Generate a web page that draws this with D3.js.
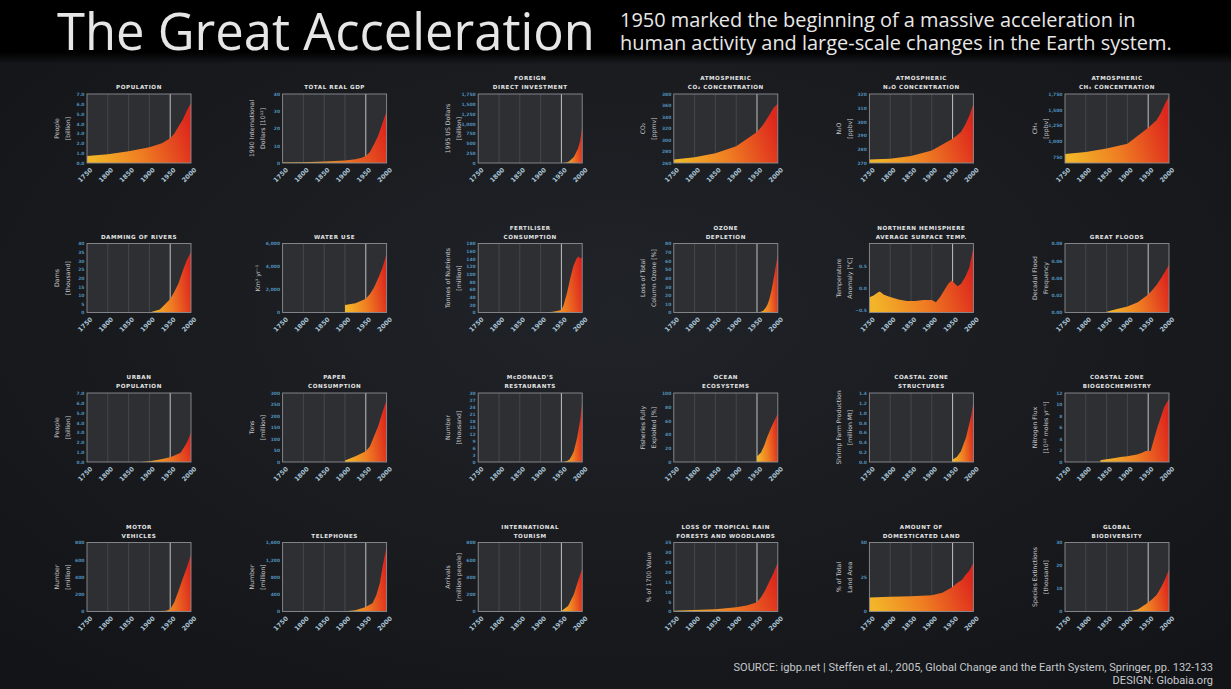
<!DOCTYPE html>
<html>
<head>
<meta charset="utf-8">
<script src="https://cdn.jsdelivr.net/npm/d3@7"></script>
<style>
  body { margin: 0; background: #191b1f; }
  svg { display: block; }
</style>
</head>
<body>
<script>
// ---- data ----
const xTicks = [1750, 1800, 1850, 1900, 1950, 2000];

const population   = [[1750,0.7],[1800,0.9],[1850,1.2],[1900,1.6],[1930,2.0],[1950,2.5],[1960,3.0],[1970,3.7],[1980,4.4],[1990,5.3],[2000,6.1]];
const gdp          = [[1750,0.3],[1800,0.5],[1850,0.8],[1900,1.5],[1925,2.2],[1940,3],[1950,4],[1960,6.4],[1970,11],[1980,16],[1990,23],[2000,30]];
const fdi          = [[1955,0],[1965,20],[1970,60],[1980,150],[1990,370],[1995,560],[2000,910]];
const co2          = [[1750,266],[1800,270],[1850,277],[1900,289],[1950,314],[1960,322],[1970,332],[1980,344],[1990,356],[2000,363]];
const n2o          = [[1750,272.5],[1800,273],[1850,275],[1900,279],[1950,287.5],[1960,290],[1970,292.5],[1980,297.5],[1990,304],[2000,313]];
const ch4          = [[1750,793],[1800,826],[1850,881],[1900,958],[1950,1211],[1960,1270],[1970,1332],[1980,1442],[1990,1585],[2000,1717]];
const dams         = [[1900,0],[1925,1.8],[1950,7.8],[1960,12],[1970,17],[1980,24],[1990,30.5],[2000,35]];
const water        = [[1900,660],[1925,800],[1950,1200],[1960,1600],[1970,2200],[1980,3000],[1990,3900],[2000,5100]];
const fertiliser   = [[1910,0],[1930,2],[1945,5],[1950,7],[1955,18],[1963,49],[1971,88],[1979,122],[1987,142],[1992,146],[1995,141],[2000,144]];
const ozone        = [[1955,0],[1965,2],[1970,5],[1975,9],[1980,16],[1985,26],[1990,39],[1995,53],[2000,68]];
const nhTemp       = [[1750,-0.21],[1760,-0.17],[1770,-0.1],[1775,-0.08],[1785,-0.15],[1800,-0.2],[1820,-0.26],[1840,-0.29],[1860,-0.29],[1880,-0.27],[1900,-0.27],[1910,-0.32],[1920,-0.2],[1930,-0.05],[1940,0.1],[1948,0.17],[1955,0.1],[1962,0.04],[1970,0.09],[1980,0.24],[1990,0.45],[2000,0.92]];
const floods       = [[1850,0.001],[1875,0.004],[1900,0.007],[1925,0.012],[1950,0.021],[1960,0.026],[1970,0.032],[1980,0.039],[1990,0.047],[2000,0.055]];
const urban        = [[1880,0],[1900,0.08],[1925,0.25],[1950,0.48],[1960,0.65],[1975,0.93],[1990,1.96],[2000,3.0]];
const paper        = [[1900,6],[1925,25],[1950,47],[1960,69],[1970,113],[1980,157],[1990,216],[2000,270]];
const mcdonalds    = [[1955,0],[1965,0.5],[1970,1.2],[1976,3.2],[1980,4.8],[1988,10.6],[1995,18],[2000,26]];
const fisheries    = [[1950,8],[1960,14],[1968,25],[1975,37],[1984,50],[1992,60],[2000,70]];
const shrimp       = [[1950,0.05],[1960,0.1],[1970,0.22],[1982,0.49],[1990,0.77],[1995,0.95],[2000,1.22]];
const nitrogen     = [[1835,0.3],[1850,0.5],[1870,0.7],[1883,0.85],[1900,1.0],[1923,1.3],[1935,1.6],[1944,1.9],[1956,1.9],[1960,3.0],[1972,6.0],[1988,9.5],[2000,11]];
const vehicles     = [[1900,0],[1925,5],[1940,8],[1950,25],[1960,110],[1970,240],[1980,380],[1990,510],[2000,660]];
const telephones   = [[1895,0],[1925,30],[1948,96],[1966,190],[1975,370],[1984,670],[1991,1070],[2000,1500]];
const tourism      = [[1950,5],[1966,65],[1980,200],[1989,340],[2000,500]];
const forests      = [[1750,0.35],[1800,0.8],[1850,1.2],[1900,2.1],[1925,3.0],[1950,4.7],[1960,7.4],[1970,10.9],[1980,15.4],[1990,19.6],[2000,24.9]];
const domesticated = [[1750,10.2],[1800,10.6],[1850,11],[1900,11.7],[1925,13.5],[1950,17.8],[1960,20.5],[1973,23],[1980,26],[1990,29.5],[2000,35.4]];
const extinctions  = [[1900,0],[1925,0.9],[1950,3.9],[1960,5.4],[1970,7.2],[1980,10.2],[1990,13.8],[2000,18.3]];

const charts = [
  {title:["POPULATION"], ylab:["People","[billion]"], domain:[0,7], ticks:[0,1,2,3,4,5,6,7], data:population},
  {title:["TOTAL REAL GDP"], ylab:["1990 International","Dollars [10¹²]"], domain:[0,40], ticks:[0,10,20,30,40], data:gdp},
  {title:["FOREIGN","DIRECT INVESTMENT"], ylab:["1995 US Dollars","[billion]"], domain:[0,1750], ticks:[0,250,500,750,1000,1250,1500,1750], data:fdi},
  {title:["ATMOSPHERIC","CO₂ CONCENTRATION"], ylab:["CO₂","[ppmv]"], domain:[260,380], ticks:[260,280,300,320,340,360,380], data:co2},
  {title:["ATMOSPHERIC","N₂O CONCENTRATION"], ylab:["N₂O","[ppbv]"], domain:[270,320], ticks:[270,280,290,300,310,320], data:n2o},
  {title:["ATMOSPHERIC","CH₄ CONCENTRATION"], ylab:["CH₄","[ppbv]"], domain:[650,1750], ticks:[750,1000,1250,1500,1750], data:ch4},
  {title:["DAMMING OF RIVERS"], ylab:["Dams","[thousand]"], domain:[0,40], ticks:[0,5,10,15,20,25,30,35,40], data:dams},
  {title:["WATER USE"], ylab:["Km³ yr⁻¹"], domain:[0,6000], ticks:[0,2000,4000,6000], data:water},
  {title:["FERTILISER","CONSUMPTION"], ylab:["Tonnes of Nutrients","[million]"], domain:[0,180], ticks:[0,20,40,60,80,100,120,140,160,180], data:fertiliser},
  {title:["OZONE","DEPLETION"], ylab:["Loss of Total","Column Ozone [%]"], domain:[0,80], ticks:[0,10,20,30,40,50,60,70,80], data:ozone},
  {title:["NORTHERN HEMISPHERE","AVERAGE SURFACE TEMP."], ylab:["Temperature","Anomaly [°C]"], domain:[-0.55,1.0], ticks:[-0.5,0,0.5], data:nhTemp},
  {title:["GREAT FLOODS"], ylab:["Decadal Flood","Frequency"], domain:[0,0.08], ticks:[0,0.02,0.04,0.06,0.08], data:floods},
  {title:["URBAN","POPULATION"], ylab:["People","[billion]"], domain:[0,7], ticks:[0,1,2,3,4,5,6,7], data:urban},
  {title:["PAPER","CONSUMPTION"], ylab:["Tons","[million]"], domain:[0,300], ticks:[0,50,100,150,200,250,300], data:paper},
  {title:["McDONALD'S","RESTAURANTS"], ylab:["Number","[thousand]"], domain:[0,30], ticks:[0,3,6,9,12,15,18,21,24,27,30], data:mcdonalds},
  {title:["OCEAN","ECOSYSTEMS"], ylab:["Fisheries Fully","Exploited [%]"], domain:[0,100], ticks:[0,20,40,60,80,100], data:fisheries},
  {title:["COASTAL ZONE","STRUCTURES"], ylab:["Shrimp Farm Production","[million Mt]"], domain:[0,1.4], ticks:[0,0.2,0.4,0.6,0.8,1,1.2,1.4], data:shrimp},
  {title:["COASTAL ZONE","BIOGEOCHEMISTRY"], ylab:["Nitrogen Flux","[10¹² moles yr⁻¹]"], domain:[0,12], ticks:[0,2,4,6,8,10,12], data:nitrogen},
  {title:["MOTOR","VEHICLES"], ylab:["Number","[million]"], domain:[0,800], ticks:[0,200,400,600,800], data:vehicles},
  {title:["TELEPHONES"], ylab:["Number","[million]"], domain:[0,1600], ticks:[0,400,800,1200,1600], data:telephones},
  {title:["INTERNATIONAL","TOURISM"], ylab:["Arrivals","[million people]"], domain:[0,800], ticks:[0,200,400,600,800], data:tourism},
  {title:["LOSS OF TROPICAL RAIN","FORESTS AND WOODLANDS"], ylab:["% of 1700 Value"], domain:[0,35], ticks:[0,5,10,15,20,25,30,35], data:forests},
  {title:["AMOUNT OF","DOMESTICATED LAND"], ylab:["% of Total","Land Area"], domain:[0,50], ticks:[0,25,50], data:domesticated},
  {title:["GLOBAL","BIODIVERSITY"], ylab:["Species Extinctions","[thousand]"], domain:[0,30], ticks:[0,10,20,30], data:extinctions}
];

// ---- layout ----
const W = 1231, H = 689;
const pw = 104, ph = 69;
const colX = d3.range(6).map(i => 87 + i * 195.6);
const rowY = d3.range(4).map(j => 94 + j * 149.5);

const svg = d3.select("body").append("svg")
    .attr("width", W).attr("height", H);

const defs = svg.append("defs");

const bgGrad = defs.append("radialGradient").attr("id", "bg")
    .attr("cx", "50%").attr("cy", "45%").attr("r", "70%");
bgGrad.append("stop").attr("offset", "0%").attr("stop-color", "#202328");
bgGrad.append("stop").attr("offset", "100%").attr("stop-color", "#131417");

const fill = defs.append("linearGradient").attr("id", "fire")
    .attr("x1", "0").attr("y1", "0.6").attr("x2", "1").attr("y2", "0.4");
fill.append("stop").attr("offset", "0%").attr("stop-color", "#f2b428");
fill.append("stop").attr("offset", "45%").attr("stop-color", "#ef7d22");
fill.append("stop").attr("offset", "100%").attr("stop-color", "#dd261d");

const headFade = defs.append("linearGradient").attr("id", "headfade")
    .attr("x1", "0").attr("y1", "0").attr("x2", "0").attr("y2", "1");
headFade.append("stop").attr("offset", "0%").attr("stop-color", "#000").attr("stop-opacity", 1);
headFade.append("stop").attr("offset", "100%").attr("stop-color", "#000").attr("stop-opacity", 0);

svg.append("rect").attr("width", W).attr("height", H).attr("fill", "url(#bg)");

// header band
svg.append("rect").attr("width", W).attr("height", 52).attr("fill", "#000");
svg.append("rect").attr("y", 52).attr("width", W).attr("height", 12).attr("fill", "url(#headfade)");

// fit a text element to a target width by scaling its font size
function fitWidth(sel, target) {
  const fs = parseFloat(sel.attr("font-size"));
  const w = sel.node().getComputedTextLength();
  sel.attr("font-size", (fs * target / w).toFixed(2));
}

const title = svg.append("text")
    .attr("x", 57).attr("y", 50)
    .attr("font-family", "Open Sans, sans-serif")
    .attr("font-size", 50)
    .attr("fill", "#e6e6e6")
    .text("The Great Acceleration");
fitWidth(title, 538);

// subtitle as one text with two lines
const subLines = ["1950 marked the beginning of a massive acceleration in",
                  "human activity and large-scale changes in the Earth system."];
const probe = svg.append("text")
    .attr("font-family", "Open Sans, sans-serif")
    .attr("font-size", 18)
    .text(subLines[1]);
fitWidth(probe, 552);
const subSize = probe.attr("font-size");
probe.remove();

svg.append("text")
    .attr("font-family", "Open Sans, sans-serif")
    .attr("font-size", subSize).attr("fill", "#e8e8e8")
  .selectAll("tspan")
  .data(subLines)
  .join("tspan")
    .attr("x", 620)
    .attr("y", (d, k) => 27 + k * 23)
    .text(d => d);

// ---- small multiples ----
const x = d3.scaleLinear().domain([1750, 2000]).range([0, pw]);

charts.forEach((c, i) => {
  const col = i % 6, row = Math.floor(i / 6);
  const g = svg.append("g")
      .attr("transform", `translate(${colX[col]},${rowY[row]})`);

  const y = d3.scaleLinear().domain(c.domain).range([ph, 0]);

  g.append("rect")
      .attr("width", pw).attr("height", ph)
      .attr("fill", "#2e2f33");

  // vertical grid
  g.selectAll(".grid")
    .data(xTicks.slice(1, -1))
    .join("line")
      .attr("x1", d => x(d)).attr("x2", d => x(d))
      .attr("y1", 0).attr("y2", ph)
      .attr("stroke", d => d === 1950 ? "#d4d4d4" : "#56585d")
      .attr("stroke-width", d => d === 1950 ? 0.9 : 0.6);

  const area = d3.area()
      .x(d => x(d[0]))
      .y0(ph)
      .y1(d => y(d[1]));

  g.append("path")
      .datum(c.data)
      .attr("d", area)
      .attr("fill", "url(#fire)");

  g.append("rect")
      .attr("width", pw).attr("height", ph)
      .attr("fill", "none")
      .attr("stroke", "#8c8e93").attr("stroke-width", 0.9);

  // y axis labels
  const yAxis = d3.axisLeft(y).tickValues(c.ticks).tickSize(0).tickPadding(2.5);
  const ya = g.append("g").call(yAxis);
  ya.select(".domain").remove();
  ya.selectAll("text")
      .attr("fill", "#4f8db8")
      .attr("font-size", 4.5)
      .attr("font-family", "DejaVu Sans, sans-serif")
      .attr("font-weight", "bold");

  // x axis labels, rotated
  const xAxis = d3.axisBottom(x).tickValues(xTicks).tickSize(0).tickFormat(d3.format("d"));
  const xa = g.append("g").attr("transform", `translate(0,${ph})`).call(xAxis);
  xa.select(".domain").remove();
  xa.selectAll("text")
      .attr("fill", "#a8c2d4")
      .attr("font-size", 6.3)
      .attr("font-weight", "bold")
      .attr("font-family", "DejaVu Sans, sans-serif")
      .attr("text-anchor", "end")
      .attr("dy", null).attr("y", 0)
      .attr("transform", "translate(2,4) rotate(-45)")
      .attr("dominant-baseline", "hanging");

  // chart title
  const tl = c.title.length;
  g.selectAll(".ttl")
    .data(c.title)
    .join("text")
      .attr("x", pw / 2)
      .attr("y", (d, k) => -5 - (tl - 1 - k) * 8.6)
      .attr("text-anchor", "middle")
      .attr("font-family", "DejaVu Sans, sans-serif")
      .attr("font-weight", "bold")
      .attr("font-size", 5.6)
      .attr("letter-spacing", 0.55)
      .attr("fill", "#e4e4e4")
      .text(d => d);

  // y title
  const yl = c.ylab.length;
  g.selectAll(".ylab")
    .data(c.ylab)
    .join("text")
      .attr("transform", (d, k) => {
        const cx = yl === 1 ? -25 : (k === 0 ? -31 : -20);
        return `translate(${cx},${ph / 2}) rotate(-90)`;
      })
      .attr("text-anchor", "middle")
      .attr("dominant-baseline", "central")
      .attr("font-family", "DejaVu Sans, sans-serif")
      .attr("font-size", 6.2)
      .attr("fill", "#c9c9c9")
      .text(d => d);
});

// ---- footer ----
const f1 = svg.append("text")
    .attr("x", 1213).attr("y", 671)
    .attr("text-anchor", "end")
    .attr("font-family", "Roboto, sans-serif")
    .attr("font-size", 8.5).attr("fill", "#c4c8cc")
    .text("SOURCE: igbp.net | Steffen et al., 2005, Global Change and the Earth System, Springer, pp. 132-133");
fitWidth(f1, 480);
svg.append("text")
    .attr("x", 1213).attr("y", 684)
    .attr("text-anchor", "end")
    .attr("font-family", "Roboto, sans-serif")
    .attr("font-size", f1.attr("font-size")).attr("fill", "#c4c8cc")
    .text("DESIGN: Globaia.org");
</script>
</body>
</html>
